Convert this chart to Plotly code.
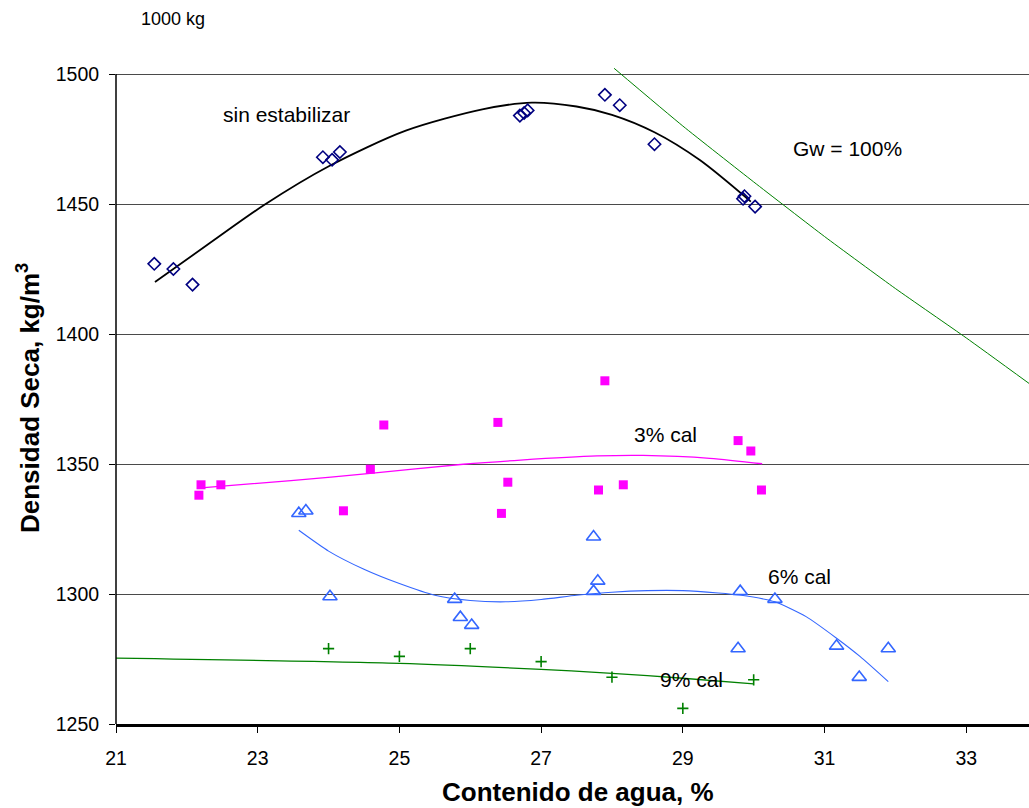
import plotly.graph_objects as go

# ---- data ----
sin_x = [21.54, 21.81, 22.08, 23.92, 24.05, 24.16, 26.70, 26.76, 26.81, 27.90, 28.11, 28.60, 29.85, 29.87, 30.02]
sin_y = [1427, 1425, 1419, 1468, 1467, 1470, 1484, 1485, 1486, 1492, 1488, 1473, 1452, 1453, 1449]

cal3_x = [22.17, 22.20, 22.48, 24.21, 24.59, 24.78, 26.39, 26.44, 26.53, 27.81, 27.90, 28.16, 29.78, 29.96, 30.11]
cal3_y = [1338, 1342, 1342, 1332, 1348, 1365, 1366, 1331, 1343, 1340, 1382, 1342, 1359, 1355, 1340]

cal6_x = [23.58, 23.68, 24.02, 25.78, 25.86, 26.02, 27.74, 27.74, 27.80, 29.78, 29.81, 30.30, 31.17, 31.49, 31.90]
cal6_y = [1331, 1332, 1299, 1298, 1291, 1288, 1322, 1301, 1305, 1279, 1301, 1298, 1280, 1268, 1279]

cal9_x = [24, 25, 26, 27, 28, 29, 30]
cal9_y = [1279, 1276, 1279, 1274, 1268, 1256, 1267]

# trend lines
fit0_x = [21.55, 22.3, 23.09, 24.01, 25.09, 26.17, 26.87, 27.5, 28.0, 28.6, 29.24, 29.96]
fit0_y = [1420, 1434.5, 1449.6, 1464.6, 1478.2, 1486.4, 1489, 1487.5, 1484.3, 1477.6, 1466.9, 1450.9]

fit3_x = [22.2, 23.47, 24.59, 25.90, 26.71, 27.79, 28.44, 29.38, 30.12]
fit3_y = [1340.8, 1343.6, 1346.4, 1349.9, 1351.5, 1353.1, 1353.3, 1352.2, 1350.1]

fit6_x = [23.58, 24.0, 24.5, 25.0, 25.5, 26.0, 26.5, 27.0, 27.5, 28.0, 28.5, 29.0, 29.5, 29.8, 30.3, 30.74, 31.17, 31.5, 31.9]
fit6_y = [1324.5, 1316.5, 1309.5, 1304.0, 1299.5, 1297.5, 1297.0, 1297.9, 1299.5, 1300.7, 1301.3, 1301.3,
          1300.4, 1299.6, 1297.0, 1291.3, 1283.0, 1276.0, 1266.3]

fit9_x = [21, 25, 27, 28, 29, 30]
fit9_y = [1275.3, 1273.3, 1271.0, 1269.5, 1267.6, 1265.4]

gw_x = [28.03, 29, 30, 31, 32, 33, 33.886]
gw_y = [1502.2, 1480, 1458.5, 1437.5, 1417.5, 1398.5, 1381]

x_ticks = [21, 23, 25, 27, 29, 31, 33]
y_ticks = [1250, 1300, 1350, 1400, 1450, 1500]

FONT = "Liberation Sans, Arial, sans-serif"

fig = go.Figure()

def line(x, y, color, width, smoothing=0.8):
    fig.add_trace(go.Scatter(x=x, y=y, mode="lines",
                             line=dict(color=color, width=width, shape="spline", smoothing=smoothing),
                             hoverinfo="skip", showlegend=False))

line(gw_x, gw_y, "#008000", 1, 0.5)
line(fit0_x, fit0_y, "#000000", 1.8)
line(fit3_x, fit3_y, "#FF00FF", 1.3)
line(fit6_x, fit6_y, "#3366FF", 1.1, 0.6)
line(fit9_x, fit9_y, "#008000", 1.3)

fig.add_trace(go.Scatter(x=sin_x, y=sin_y, mode="markers", showlegend=False,
                         marker=dict(symbol="diamond-open", size=9.5, color="#000080", line=dict(width=1.6))))
fig.add_trace(go.Scatter(x=cal3_x, y=cal3_y, mode="markers", showlegend=False,
                         marker=dict(symbol="square", size=9, color="#FF00FF", line=dict(width=0))))
fig.add_trace(go.Scatter(x=cal6_x, y=cal6_y, mode="markers", showlegend=False,
                         marker=dict(symbol="triangle-up-open", size=12.5, color="#3366FF", line=dict(width=1.6))))
fig.add_trace(go.Scatter(x=cal9_x, y=cal9_y, mode="markers", showlegend=False,
                         marker=dict(symbol="cross-thin-open", size=8, color="#008000",
                                     line=dict(width=1.6, color="#008000"))))

ann_font = dict(family=FONT, size=21, color="#000000")
labels = [
    ("sin estabilizar", 23.40, 1484.6),
    ("Gw = 100%", 31.33, 1471.2),
    ("3% cal", 28.75, 1361.2),
    ("6% cal", 30.64, 1306.9),
    ("9% cal", 29.12, 1267.0),
]
for txt, ax, ay in labels:
    fig.add_annotation(x=ax, y=ay, xref="x", yref="y", text=txt, showarrow=False,
                       font=ann_font, xanchor="center", yanchor="middle")

fig.add_annotation(x=0.0621, y=1.0714, xref="paper", yref="paper", text="1000 kg", showarrow=False,
                   font=dict(family=FONT, size=18, color="#000000"), xanchor="center", yanchor="middle")

# axis titles
fig.add_annotation(x=0.5064, y=-0.1033, xref="paper", yref="paper", text="<b>Contenido de agua, %</b>",
                   showarrow=False, font=dict(family=FONT, size=26, color="#000000"),
                   xanchor="center", yanchor="middle")
fig.add_annotation(x=-0.0964, y=0.4954, xref="paper", yref="paper",
                   text="<b>Densidad Seca, kg/m<sup>3</sup></b>", showarrow=False, textangle=-90,
                   font=dict(family=FONT, size=26, color="#000000"), xanchor="center", yanchor="middle")

# left axis line from 1250 to 1500
fig.add_shape(type="line", xref="paper", yref="y", x0=0, x1=0, y0=1250, y1=1500,
              line=dict(color="#000000", width=1.5), layer="above")

fig.update_layout(
    width=1029, height=808,
    margin=dict(l=116, r=0, t=66, b=84),
    paper_bgcolor="white", plot_bgcolor="white",
    font=dict(family=FONT, size=19.5, color="#000000"),
    showlegend=False,
)
fig.update_xaxes(range=[21, 33.886], tickvals=x_ticks, ticks="outside", ticklen=6, tickwidth=1,
                 tickcolor="#000000", showgrid=False, zeroline=False, showline=True,
                 linecolor="#000000", linewidth=2.5, tickfont=dict(size=19.5), ticklabelstandoff=9)
fig.update_yaxes(range=[1250, 1503.08], tickvals=y_ticks, ticks="outside", ticklen=6, tickwidth=1,
                 tickcolor="#000000", showgrid=True, gridcolor="#4a4a4a", gridwidth=1, zeroline=False,
                 showline=False, tickfont=dict(size=19.5), ticklabelstandoff=6)

fig.write_html("out.html")
